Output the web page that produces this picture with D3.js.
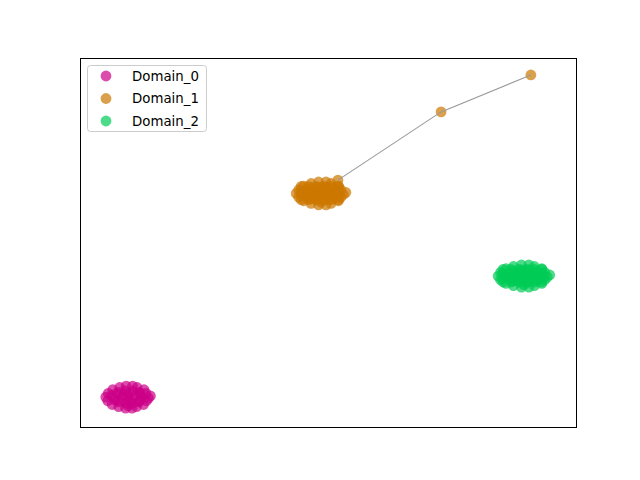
<!DOCTYPE html>
<html><head><meta charset="utf-8">
<script src="https://cdn.jsdelivr.net/npm/d3@7"></script>
<style>body{margin:0;background:#fff}svg{display:block}</style>
</head><body>
<script>
const domains = ["Domain_0", "Domain_1", "Domain_2"];
const colors = ["#cc0088", "#cc7700", "#00cc55"];

const d0x = [0.52,0.57,0.56,0.66,0.65,0.64,0.70,0.80,0.78,0.79,0.80,0.84,0.93,0.92,0.92,0.93,0.97,1.02,1.06,1.05,1.07,1.06,1.11,1.15,1.14,1.20,1.19,1.24,1.29,1.28,1.33,1.34,1.42,1.38,0.88,0.97,0.75,0.97,1.19,0.74,0.98,1.20];
const d0y = [0.81,0.91,0.71,1.01,0.61,0.84,0.74,1.07,0.55,0.94,0.68,0.81,1.11,0.51,0.98,0.65,0.84,0.74,1.11,0.51,0.97,0.64,0.84,1.07,0.55,0.94,0.68,0.81,1.01,0.61,0.91,0.71,0.84,0.78,0.88,0.58,0.71,0.71,0.71,0.91,0.91,0.91];

const d1x = [4.36,4.41,4.41,4.51,4.51,4.51,4.56,4.66,4.66,4.66,4.66,4.71,4.81,4.81,4.81,4.81,4.86,4.91,4.96,4.96,4.96,4.96,5.01,5.06,5.06,5.11,5.11,5.16,5.21,5.21,5.26,5.26,5.36,5.31,4.76,4.86,4.60,5.00,4.86,5.15,4.55,4.70,
  4.46,4.61,4.76,4.91,5.06,5.21,4.46,4.61,4.76,4.91,5.06,5.21,4.46,4.61,4.76,4.91,5.06,5.21,4.46,4.61,4.76,4.91,5.06,5.21,
  5.20,7.28,9.09];
const d1y = [6.33,6.43,6.23,6.53,6.13,6.36,6.26,6.60,6.06,6.47,6.19,6.33,6.64,6.02,6.50,6.16,6.36,6.26,6.64,6.02,6.50,6.16,6.36,6.60,6.06,6.47,6.19,6.33,6.53,6.13,6.43,6.23,6.36,6.30,6.40,6.09,6.33,6.28,6.45,6.40,6.40,6.22,
  6.16,6.16,6.16,6.16,6.16,6.16,6.28,6.28,6.28,6.28,6.28,6.28,6.40,6.40,6.40,6.40,6.40,6.40,6.52,6.52,6.52,6.52,6.52,6.52,
  6.69,8.54,9.54];

const d2x = [8.43,8.48,8.48,8.59,8.59,8.59,8.64,8.74,8.74,8.74,8.74,8.79,8.90,8.90,8.90,8.90,8.95,9.00,9.05,9.05,9.05,9.05,9.11,9.16,9.16,9.21,9.21,9.26,9.31,9.31,9.37,9.37,9.47,9.42,8.85,8.95,8.70,9.10,8.95,9.25,8.65,8.80,
  8.53,8.69,8.85,9.00,9.16,9.31,8.53,8.69,8.85,9.00,9.16,9.31,8.53,8.69,8.85,9.00,9.16,9.31,8.53,8.69,8.85,9.00,9.16,9.31];
const d2y = [4.09,4.19,3.99,4.29,3.89,4.12,4.02,4.35,3.83,4.22,3.96,4.09,4.39,3.79,4.26,3.93,4.12,4.02,4.39,3.79,4.26,3.93,4.12,4.35,3.83,4.22,3.96,4.09,4.29,3.89,4.19,3.99,4.12,4.06,4.16,3.86,4.09,4.04,4.21,4.15,4.15,3.98,
  3.93,3.93,3.93,3.93,3.93,3.93,4.04,4.04,4.04,4.04,4.04,4.04,4.16,4.16,4.16,4.16,4.16,4.16,4.27,4.27,4.27,4.27,4.27,4.27];

const pathX = [5.20, 7.28, 9.09];
const pathY = [6.69, 8.54, 9.54];

const W = 640, H = 480;
const L = 80, R = 576, T = 58, B = 427;
const x = d3.scaleLinear().domain([0, 10]).range([L, L + 496]);
const y = d3.scaleLinear().domain([0, 10]).range([B, B - 369]);

const svg = d3.select("body").append("svg").attr("width", W).attr("height", H);

const series = [[d0x, d0y], [d1x, d1y], [d2x, d2y]];
series.forEach((s, i) => {
  const pts = s[0].map((v, j) => [v, s[1][j]]);
  svg.append("g").selectAll("circle").data(pts).join("circle")
    .attr("cx", d => x(d[0])).attr("cy", d => y(d[1])).attr("r", 5.4)
    .attr("fill", colors[i]).attr("fill-opacity", 0.7);
});

const line = d3.line().x(d => x(d[0])).y(d => y(d[1]));
svg.append("path").datum(pathX.map((v, j) => [v, pathY[j]]))
  .attr("d", line).attr("fill", "none").attr("stroke", "#999").attr("stroke-width", 1.1);

svg.append("rect").attr("x", L + 0.5).attr("y", T + 0.5).attr("width", R - L).attr("height", B - T)
  .attr("fill", "none").attr("stroke", "#000").attr("stroke-width", 1);

const lg = svg.append("g");
lg.append("rect").attr("x", 87.5).attr("y", 65.5).attr("width", 119).attr("height", 66).attr("rx", 3)
  .attr("fill", "#fff").attr("fill-opacity", 0.8).attr("stroke", "#ccc");
domains.forEach((d, i) => {
  const cy = 76 + i * 22.5;
  lg.append("circle").attr("cx", 106).attr("cy", cy).attr("r", 5.4).attr("fill", colors[i]).attr("fill-opacity", 0.7);
  lg.append("text").attr("x", 132).attr("y", cy + 4.8).text(d)
    .attr("font-family", "DejaVu Sans").attr("font-size", "13.33px").attr("fill", "#000");
});
</script>
</body></html>
